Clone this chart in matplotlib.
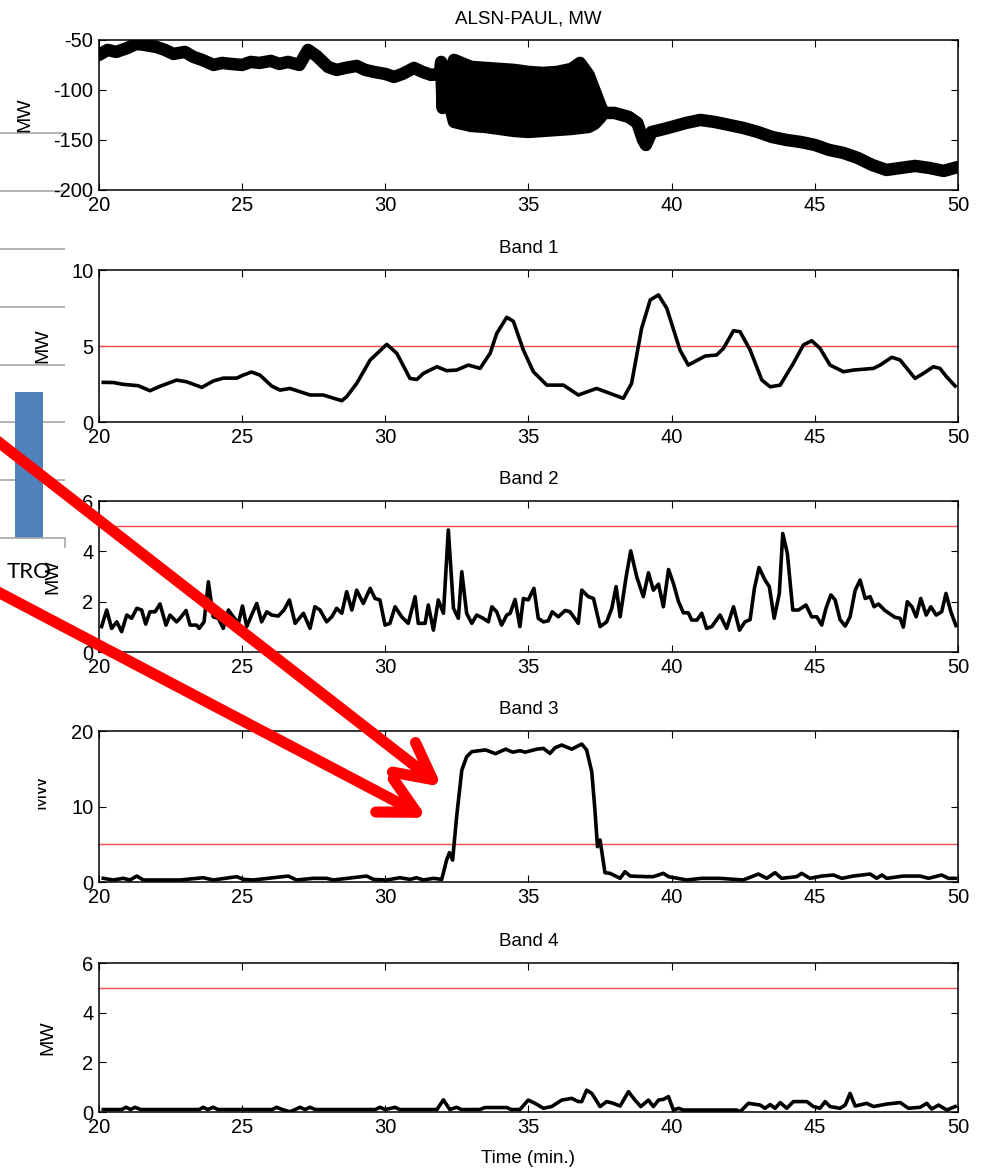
import numpy as np
import matplotlib
matplotlib.use("Agg")
import matplotlib.pyplot as plt
from matplotlib.patches import Rectangle

plt.rcParams["font.family"] = ["Liberation Sans", "DejaVu Sans"]
plt.rcParams["axes.unicode_minus"] = False

# -----------------------------
# Data
# -----------------------------
# ALSN-PAUL, MW : trace before the oscillation
p1a_t = [20.0, 20.3, 20.6, 21.0, 21.3, 21.6, 22.0, 22.3, 22.6, 23.0, 23.3, 23.6,
         24.0, 24.3, 24.6, 25.0, 25.3, 25.6, 26.0, 26.3, 26.6, 27.0, 27.3, 27.6,
         28.0, 28.3, 28.6, 29.0, 29.3, 29.6, 30.0, 30.3, 30.6, 31.0, 31.3, 31.6,
         31.9, 31.95, 32.0, 32.05, 32.2]
p1a_mw = [-65, -60, -62, -58, -54, -55, -57, -60, -64, -62, -67, -70,
          -75, -73, -74, -75, -72, -73, -71, -74, -72, -75, -60, -66,
          -77, -80, -78, -76, -80, -82, -84, -87, -84, -78, -82, -85,
          -84, -72, -118, -88, -95]
# oscillating block, upper / lower envelope
p1_env_t = [32.2, 32.4, 33.0, 33.5, 34.0, 34.5, 35.0, 35.5, 36.0, 36.5, 36.8,
            37.1, 37.3, 37.5, 37.6]
p1_env_hi = [-88, -70, -77, -78, -79, -80, -82, -83, -82, -79, -73,
             -85, -100, -115, -122]
p1_env_lo = [-110, -132, -136, -137, -139, -141, -142, -141, -140, -139, -138,
             -137, -134, -128, -124]
# trace after the oscillation
p1b_t = [37.6, 38.0, 38.5, 38.8, 39.0, 39.1, 39.3, 39.6, 40.0, 40.5, 41.0, 41.5,
         42.0, 42.5, 43.0, 43.5, 44.0, 44.5, 45.0, 45.5, 46.0, 46.5, 47.0, 47.5,
         48.0, 48.5, 49.0, 49.5, 50.0]
p1b_mw = [-123, -123, -127, -133, -150, -155, -142, -140, -137, -133, -130, -132,
          -135, -138, -142, -147, -150, -152, -155, -160, -163, -168, -175, -180,
          -178, -176, -178, -181, -177]

band1_t = [20.15, 20.5, 20.85, 21.37, 21.78, 22.13, 22.71, 23.06, 23.59, 23.99,
           24.34, 24.81, 25.04, 25.33, 25.62, 26.03, 26.32, 26.67, 27.37, 27.83,
           28.48, 28.65, 29.0, 29.47, 30.05, 30.4, 30.86, 31.1, 31.33, 31.8,
           32.14, 32.49, 32.9, 33.31, 33.66, 33.89, 34.24, 34.47, 34.82, 35.17,
           35.64, 36.22, 36.74, 37.38, 38.31, 38.6, 38.95, 39.25, 39.54, 39.83,
           40.29, 40.58, 41.17, 41.57, 41.81, 42.16, 42.39, 42.74, 43.15, 43.44,
           43.79, 44.25, 44.6, 44.89, 45.18, 45.53, 46.0, 46.35, 47.05, 47.28,
           47.69, 47.98, 48.5, 48.79, 49.14, 49.37, 49.6, 49.9]
band1_mw = [2.61, 2.60, 2.48, 2.39, 2.06, 2.35, 2.76, 2.65, 2.28, 2.70,
            2.89, 2.89, 3.09, 3.29, 3.09, 2.37, 2.10, 2.21, 1.78, 1.78,
            1.40, 1.67, 2.54, 4.08, 5.11, 4.52, 2.87, 2.80, 3.20, 3.64,
            3.38, 3.42, 3.75, 3.53, 4.52, 5.83, 6.89, 6.63, 4.74, 3.31,
            2.43, 2.43, 1.78, 2.21, 1.56, 2.54, 6.16, 8.03, 8.36, 7.48,
            4.74, 3.75, 4.34, 4.41, 4.85, 6.01, 5.94, 4.74, 2.76, 2.32,
            2.43, 3.86, 5.07, 5.35, 4.85, 3.75, 3.31, 3.42, 3.53, 3.75,
            4.26, 4.08, 2.87, 3.20, 3.64, 3.53, 2.98, 2.37]

band2_t = [20.09, 20.27, 20.44, 20.62, 20.79, 20.97, 21.14, 21.32, 21.49, 21.63,
           21.78, 21.96, 22.13, 22.34, 22.48, 22.71, 22.83, 23.04, 23.18, 23.41,
           23.5, 23.67, 23.82, 23.99, 24.17, 24.34, 24.52, 24.69, 24.87, 25.01,
           25.16, 25.33, 25.51, 25.68, 25.86, 26.03, 26.26, 26.46, 26.65, 26.85,
           27.14, 27.37, 27.54, 27.72, 27.95, 28.13, 28.3, 28.48, 28.65, 28.83,
           29.0, 29.23, 29.47, 29.64, 29.81, 29.99, 30.16, 30.34, 30.57, 30.8,
           31.04, 31.15, 31.39, 31.5, 31.68, 31.85, 32.03, 32.2, 32.38, 32.55,
           32.67, 32.84, 33.02, 33.19, 33.42, 33.6, 33.72, 33.89, 34.06, 34.24,
           34.36, 34.53, 34.7, 34.82, 34.99, 35.19, 35.34, 35.52, 35.69, 35.83,
           36.04, 36.28, 36.45, 36.74, 36.86, 37.09, 37.27, 37.5, 37.73, 37.91,
           38.06, 38.2, 38.41, 38.57, 38.78, 39.01, 39.19, 39.36, 39.54, 39.71,
           39.89, 40.06, 40.24, 40.41, 40.58, 40.7, 40.88, 41.05, 41.22, 41.4,
           41.69, 41.92, 42.16, 42.37, 42.56, 42.74, 42.89, 43.05, 43.26, 43.41,
           43.58, 43.76, 43.88, 44.04, 44.23, 44.43, 44.69, 44.89, 45.07, 45.24,
           45.39, 45.56, 45.71, 45.88, 46.06, 46.23, 46.41, 46.58, 46.76, 46.93,
           47.07, 47.22, 47.45, 47.63, 47.8, 47.98, 48.09, 48.23, 48.39, 48.54,
           48.7, 48.89, 49.05, 49.24, 49.43, 49.58, 49.75, 49.93]
band2_mw = [1.01, 1.67, 0.94, 1.20, 0.81, 1.47, 1.34, 1.74, 1.67, 1.11,
            1.60, 1.60, 1.91, 1.07, 1.47, 1.20, 1.34, 1.65, 1.07, 1.07,
            0.94, 1.20, 2.79, 1.40, 1.34, 0.94, 1.67, 1.40, 1.14, 1.83,
            1.01, 1.47, 1.93, 1.20, 1.60, 1.47, 1.43, 1.67, 2.07, 1.14,
            1.54, 0.94, 1.80, 1.67, 1.20, 1.40, 1.74, 1.54, 2.40, 1.67,
            2.46, 1.93, 2.53, 2.13, 2.07, 1.07, 1.14, 1.80, 1.40, 1.14,
            2.20, 1.14, 1.14, 1.87, 0.87, 2.07, 1.54, 4.85, 1.74, 1.34,
            3.19, 1.54, 1.14, 1.47, 1.34, 1.20, 1.80, 1.60, 1.07, 1.47,
            1.54, 2.09, 1.01, 2.13, 2.07, 2.53, 1.34, 1.20, 1.24, 1.60,
            1.40, 1.65, 1.60, 1.14, 2.46, 2.20, 2.13, 1.01, 1.20, 1.74,
            2.60, 1.40, 2.99, 4.02, 2.99, 2.20, 3.15, 2.46, 2.70, 1.80,
            3.28, 2.73, 2.00, 1.56, 1.56, 1.27, 1.27, 1.54, 0.94, 1.01,
            1.47, 0.94, 1.80, 0.87, 1.20, 1.29, 2.53, 3.36, 2.86, 2.60,
            1.34, 2.33, 4.71, 3.92, 1.67, 1.67, 1.87, 1.40, 1.40, 1.07,
            1.74, 2.27, 2.07, 1.29, 1.03, 1.40, 2.46, 2.86, 2.13, 2.20,
            1.80, 1.91, 1.65, 1.51, 1.38, 1.34, 0.99, 2.00, 1.80, 1.40,
            2.13, 1.47, 1.80, 1.47, 1.60, 2.33, 1.60, 1.05]

band3_t = [20.15, 20.5, 20.85, 21.08, 21.32, 21.55, 22.0, 22.83, 23.64, 23.99,
           24.81, 25.04, 25.39, 26.61, 26.9, 27.49, 27.95, 28.18, 29.35, 29.58,
           30.05, 30.51, 30.86, 31.09, 31.33, 31.68, 31.97, 32.14, 32.24, 32.35,
           32.49, 32.67, 32.84, 33.02, 33.5, 33.85, 34.2, 34.45, 34.7, 34.88,
           35.29, 35.52, 35.75, 35.93, 36.16, 36.51, 36.86, 37.03, 37.21, 37.32,
           37.41, 37.5, 37.67, 37.85, 38.2, 38.37, 38.55, 39.13, 39.36, 39.71,
           39.89, 40.53, 41.05, 41.69, 42.5, 43.03, 43.32, 43.61, 43.84, 44.37,
           44.54, 44.83, 45.24, 45.65, 45.94, 46.35, 46.93, 47.16, 47.34, 47.51,
           48.09, 48.68, 48.97, 49.43, 49.67, 49.9]
band3_mw = [0.49, 0.27, 0.49, 0.27, 0.79, 0.27, 0.27, 0.27, 0.57, 0.27,
            0.71, 0.35, 0.27, 0.79, 0.27, 0.49, 0.49, 0.27, 0.79, 0.35,
            0.27, 0.57, 0.35, 0.57, 0.27, 0.49, 0.35, 2.90, 3.90, 2.90,
            8.65, 14.80, 16.60, 17.27, 17.50, 17.00, 17.60, 17.20, 17.40, 17.20,
            17.60, 17.70, 17.04, 17.79, 18.15, 17.60, 18.28, 17.49, 14.60, 9.54,
            4.68, 5.56, 1.24, 1.15, 0.49, 1.37, 0.79, 0.71, 0.71, 1.15,
            0.71, 0.27, 0.49, 0.49, 0.27, 1.06, 0.49, 1.24, 0.49, 0.71,
            1.15, 0.49, 0.79, 0.93, 0.49, 0.79, 1.06, 0.49, 0.93, 0.49,
            0.79, 0.79, 0.49, 0.93, 0.49, 0.49]

band4_t = [20.15, 20.79, 20.95, 21.1, 21.26, 21.45, 23.5, 23.64, 23.8, 23.99,
           24.15, 26.05, 26.2, 26.4, 26.67, 26.85, 27.02, 27.2, 27.37, 27.55,
           29.65, 29.81, 30.0, 30.34, 30.5, 31.8, 32.03, 32.25, 32.49, 32.65,
           33.3, 33.48, 34.24, 34.4, 34.7, 34.99, 35.23, 35.52, 35.81, 36.16,
           36.51, 36.74, 36.86, 37.03, 37.21, 37.5, 37.73, 37.96, 38.2, 38.49,
           38.72, 38.92, 39.19, 39.36, 39.54, 39.71, 39.89, 40.06, 40.24, 40.41,
           42.27, 42.39, 42.68, 43.09, 43.26, 43.44, 43.61, 43.79, 44.02, 44.25,
           44.72, 44.95, 45.18, 45.36, 45.53, 45.88, 46.06, 46.23, 46.41, 46.81,
           47.05, 47.51, 47.98, 48.27, 48.68, 48.91, 49.08, 49.32, 49.61, 49.9]
band4_mw = [0.10, 0.10, 0.19, 0.10, 0.19, 0.10, 0.10, 0.19, 0.10, 0.19,
            0.10, 0.10, 0.19, 0.10, 0.01, 0.10, 0.19, 0.10, 0.19, 0.10,
            0.10, 0.19, 0.10, 0.19, 0.10, 0.10, 0.49, 0.10, 0.19, 0.10,
            0.10, 0.18, 0.18, 0.10, 0.10, 0.48, 0.35, 0.15, 0.22, 0.48,
            0.55, 0.42, 0.42, 0.88, 0.75, 0.22, 0.42, 0.35, 0.24, 0.82,
            0.48, 0.22, 0.48, 0.22, 0.48, 0.51, 0.62, 0.08, 0.15, 0.08,
            0.08, 0.01, 0.35, 0.28, 0.15, 0.30, 0.15, 0.38, 0.15, 0.42,
            0.42, 0.22, 0.15, 0.42, 0.22, 0.15, 0.28, 0.75, 0.24, 0.35,
            0.22, 0.32, 0.38, 0.15, 0.19, 0.35, 0.12, 0.28, 0.08, 0.22]

threshold = 5
x_ticks = [20, 25, 30, 35, 40, 45, 50]

# cropped bar chart peeking out on the left
bar_cats = ["TRO"]
bar_vals = [2.52]

# -----------------------------
# Figure
# -----------------------------
fig = plt.figure(figsize=(9.86, 11.74), dpi=100)

GRAY = "#a6a6a6"
axb = fig.add_axes([0.0, 0.5417, 0.0659, 0.3458])
axb.patch.set_visible(False)
axb.bar(bar_cats, bar_vals, width=0.39, color="#4f81bd", zorder=2)
axb.set_xlim(-0.40, 0.5)
axb.set_ylim(0, 7.02)
axb.set_yticks(np.arange(1, 8))
axb.set_axisbelow(True)
axb.grid(axis="y", color=GRAY, lw=1.2)
axb.tick_params(axis="y", length=0, labelleft=False)
axb.set_xticks([0.5], minor=True)
axb.tick_params(axis="x", which="major", length=0, pad=17, labelsize=16)
axb.tick_params(axis="x", which="minor", length=7, width=1.2, color=GRAY, direction="out")
for lab in axb.get_xticklabels():
    lab.set_family(["Lato", "DejaVu Sans"])
for s in ["left", "right", "top"]:
    axb.spines[s].set_visible(False)
axb.spines["bottom"].set_color(GRAY)
axb.spines["bottom"].set_linewidth(1.2)

positions = [
    [0.1004, 0.8382, 0.8712, 0.1278],
    [0.1004, 0.6405, 0.8712, 0.1295],
    [0.1004, 0.4446, 0.8712, 0.1286],
    [0.1004, 0.2487, 0.8712, 0.1286],
    [0.1004, 0.0528, 0.8712, 0.1269],
]
titles = ["ALSN-PAUL, MW", "Band 1", "Band 2", "Band 3", "Band 4"]
ylims = [(-200, -50), (0, 10), (0, 6), (0, 20), (0, 6)]
yticks = [[-200, -150, -100, -50], [0, 5, 10], [0, 2, 4, 6], [0, 10, 20], [0, 2, 4, 6]]
label_x = [-0.0768, -0.0559, -0.0442, -0.0582, -0.05]
label_y = [0.5, 0.5, 0.5, 0.6, 0.5]

axes = []
for i, pos in enumerate(positions):
    ax = fig.add_axes(pos)
    ax.set_xlim(20, 50)
    ax.set_ylim(*ylims[i])
    ax.set_xticks(x_ticks)
    ax.set_yticks(yticks[i])
    ax.tick_params(direction="in", length=5, width=0.8, top=True, right=True,
                   labelsize=14.5, pad=4)
    for s in ax.spines.values():
        s.set_linewidth(1.1)
    ax.set_title(titles[i], fontsize=13.5, pad=12)
    ax.set_ylabel("MW", fontsize=14)
    ax.yaxis.set_label_coords(label_x[i], label_y[i])
    axes.append(ax)

ax1, ax2, ax3, ax4, ax5 = axes

# top panel: thick noisy trace
thick = dict(color="black", lw=9, solid_capstyle="round", solid_joinstyle="round")
ax1.fill_between(p1_env_t, p1_env_lo, p1_env_hi, color="black", lw=0)
ax1.plot(p1_env_t, p1_env_hi, **thick)
ax1.plot(p1_env_t, p1_env_lo, **thick)
ax1.plot(p1a_t, p1a_mw, **thick)
ax1.plot(p1b_t, p1b_mw, **thick)

band_data = [(ax2, band1_t, band1_mw), (ax3, band2_t, band2_mw),
             (ax4, band3_t, band3_mw), (ax5, band4_t, band4_mw)]
for ax, t, v in band_data:
    ax.axhline(threshold, color="#ff4a4a", lw=1.0)
    ax.plot(t, v, color="black", lw=2.6, solid_joinstyle="round")

ax5.set_xlabel("Time (min.)", fontsize=13.5, labelpad=10)

# red arrows pointing at the Band 3 jump
arrow_kw = dict(arrowstyle="->,head_length=2.6,head_width=1.35", color="red", lw=8,
                shrinkA=0, shrinkB=0, mutation_scale=10)
ax4.annotate("", xy=(31.98, 12.6), xytext=(-0.0203, 0.6358),
             textcoords="figure fraction", arrowprops=arrow_kw, annotation_clip=False)
ax4.annotate("", xy=(31.46, 8.5), xytext=(-0.0203, 0.5038),
             textcoords="figure fraction", arrowprops=arrow_kw, annotation_clip=False)

# the Band 3 axis label is half hidden in the screenshot
fig.add_artist(Rectangle((0, 1 - 815 / 1174), 38 / 986, 60 / 1174,
                         transform=fig.transFigure, facecolor="white",
                         edgecolor="none", zorder=5))

fig.savefig("out.png", dpi=100)
